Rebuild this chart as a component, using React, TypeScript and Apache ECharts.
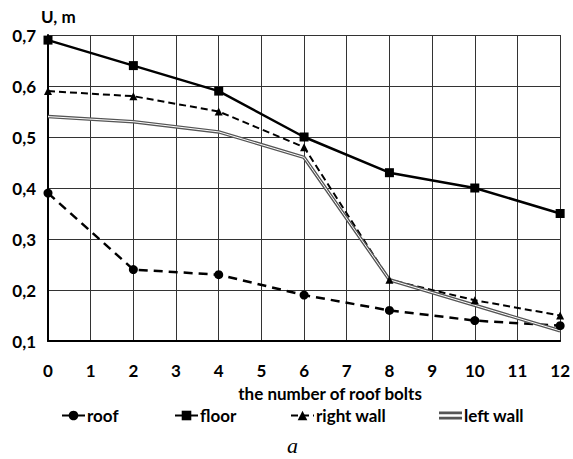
import React, { useEffect, useRef } from "react";
import * as echarts from "echarts";

const bolts = [0, 2, 4, 6, 8, 10, 12];
const roof = [0.39, 0.24, 0.23, 0.19, 0.16, 0.14, 0.13];
const floor = [0.69, 0.64, 0.59, 0.5, 0.43, 0.4, 0.35];
const rightWall = [0.59, 0.58, 0.55, 0.48, 0.22, 0.18, 0.15];
const leftWall = [0.54, 0.53, 0.51, 0.46, 0.22, 0.17, 0.12];

const pts = (ys: number[]) => bolts.map((x, i) => [x, ys[i]]);

const FONT = "Lato";

export default function App() {
  const ref = useRef<HTMLDivElement>(null);
  useEffect(() => {
    const chart = echarts.init(ref.current!, null, { renderer: "svg" });
    const legendText = { fontFamily: FONT, fontWeight: "bold" as const, fontSize: 17, color: "#000" };
    const mkLegend = (name: string, left: number, icon?: string) => ({
      data: [icon ? { name, icon } : { name }],
      left,
      top: 407,
      padding: 0,
      itemWidth: 23,
      itemHeight: 12,
      itemGap: 2,
      textStyle: { ...legendText, padding: [0, 0, 0, -3] },
    });
    chart.setOption({
      animation: false,
      backgroundColor: "#fff",
      grid: { left: 48, right: 10, top: 35, bottom: 118, containLabel: false },
      xAxis: {
        type: "value",
        min: 0,
        max: 12,
        interval: 1,
        name: "the number of roof bolts",
        nameLocation: "middle",
        nameGap: 44,
        nameTextStyle: { ...legendText, padding: [0, 0, 0, 52] },
        axisLine: { lineStyle: { color: "#000", width: 2 } },
        axisTick: { show: false },
        axisLabel: { ...legendText, fontSize: 17, margin: 21 },
        splitLine: { show: true, lineStyle: { color: "#333", width: 1 } },
      },
      yAxis: {
        type: "value",
        min: 0.1,
        max: 0.7,
        interval: 0.1,
        name: "U, m",
        nameLocation: "end",
        nameGap: 10,
        nameTextStyle: { ...legendText, fontSize: 17, align: "left", padding: [0, 0, 0, -7] },
        axisLine: { show: true, lineStyle: { color: "#000", width: 2 } },
        axisTick: { show: false },
        axisLabel: {
          ...legendText,
          fontSize: 17,
          margin: 12,
          formatter: (v: number) => v.toFixed(1).replace(".", ","),
        },
        splitLine: { show: true, lineStyle: { color: "#333", width: 1 } },
      },
      legend: [
        mkLegend("roof", 61),
        mkLegend("floor", 174),
        mkLegend("right wall", 290),
        mkLegend("left wall", 439, "path://M0,0H26V3H0Z M0,6H26V9H0Z"),
      ],
      series: [
        {
          name: "roof",
          type: "line",
          data: pts(roof),
          symbol: "circle",
          symbolSize: 9,
          itemStyle: { color: "#000" },
          lineStyle: { color: "#000", width: 2.5, type: [9, 6] },
        },
        {
          name: "floor",
          type: "line",
          data: pts(floor),
          symbol: "rect",
          symbolSize: 9,
          itemStyle: { color: "#000" },
          lineStyle: { color: "#000", width: 2.5 },
        },
        {
          name: "right wall",
          type: "line",
          data: pts(rightWall),
          symbol: "triangle",
          symbolSize: 8,
          itemStyle: { color: "#000" },
          lineStyle: { color: "#000", width: 2, type: [7, 4] },
        },
        {
          name: "left wall",
          type: "line",
          data: pts(leftWall),
          symbol: "none",
          itemStyle: { color: "#555" },
          lineStyle: { color: "#555", width: 3.5 },
        },
        {
          name: "left wall inner",
          type: "line",
          data: pts(leftWall),
          symbol: "none",
          lineStyle: { color: "#fff", width: 1 },
          silent: true,
        },
      ],
      graphic: [
        {
          type: "text",
          left: 287,
          top: 434,
          style: { text: "a", font: "italic 22px 'Liberation Serif'", fill: "#000" },
        },
      ],
    });
    return () => chart.dispose();
  }, []);
  return (
    <div
      ref={ref}
      style={{ position: "absolute", left: 0, top: 0, width: 573, height: 459 }}
    />
  );
}
